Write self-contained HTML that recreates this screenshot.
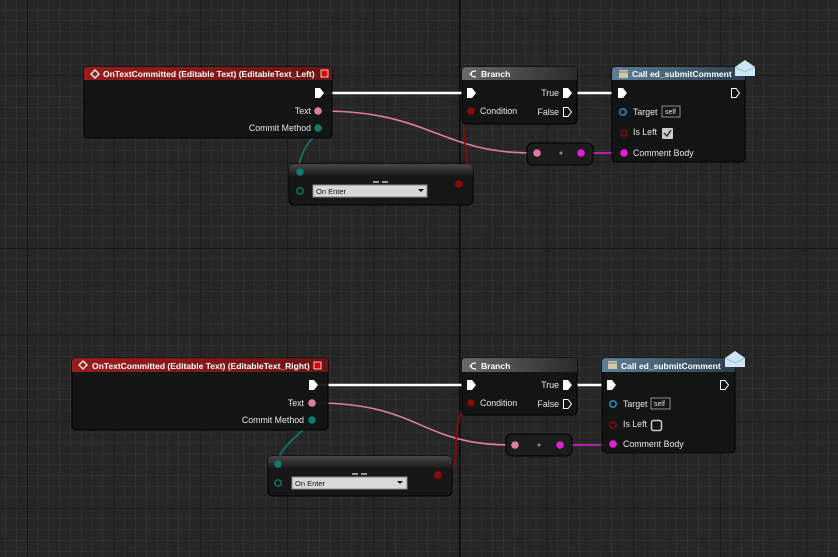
<!DOCTYPE html>
<html><head><meta charset="utf-8"><style>
html,body{margin:0;padding:0;background:#262626;}
svg{display:block}
text{font-family:"Liberation Sans",sans-serif;font-size:8.8px;fill:#e6e6e6;}
.t{font-weight:bold;font-size:8.5px;fill:#fff}
</style></head><body>
<svg width="838" height="557" viewBox="0 0 838 557" xmlns="http://www.w3.org/2000/svg">
<defs>
<pattern id="minor" x="5.3" y="9.7" width="10.825" height="10.825" patternUnits="userSpaceOnUse">
<path d="M0 0H10.825M0 0V10.825" stroke="#383838" stroke-width="1" fill="none"/>
</pattern>
<pattern id="major" x="27" y="-11.8" width="86.6" height="86.6" patternUnits="userSpaceOnUse">
<path d="M0 0.5H86.6M0.5 0V86.6" stroke="#181818" stroke-width="1" fill="none"/>
</pattern>
<linearGradient id="redh" x1="0" y1="0" x2="1" y2="0"><stop offset="0" stop-color="#9a1c1c"/><stop offset="1" stop-color="#6a1414"/></linearGradient>
<linearGradient id="gray" x1="0" y1="0" x2="1" y2="0"><stop offset="0" stop-color="#6a6a6a"/><stop offset="1" stop-color="#2a2a2a"/></linearGradient>
<linearGradient id="blue" x1="0" y1="0" x2="1" y2="0"><stop offset="0" stop-color="#5d7f96"/><stop offset="1" stop-color="#2c3e4c"/></linearGradient>
<linearGradient id="eqh" x1="0" y1="0" x2="0" y2="1"><stop offset="0" stop-color="#555"/><stop offset="1" stop-color="#1a1a1a"/></linearGradient>
</defs>
<rect width="838" height="557" fill="#262626"/>
<rect width="838" height="557" fill="url(#minor)"/>
<rect width="838" height="557" fill="url(#major)"/>
<line x1="459.5" y1="0" x2="459.5" y2="557" stroke="#0c0c0c" stroke-width="1.2"/>

<!-- ===== TOP ===== -->
<g>
<path d="M324 93H466" stroke="#fff" stroke-width="2.5"/>
<path d="M572 93H617" stroke="#fff" stroke-width="2.5"/>
<path d="M322 111C430 111 440 153 532 153" stroke="#e07aa8" stroke-width="1.6" fill="none"/>
<path d="M585 153H620" stroke="#e020d0" stroke-width="1.6"/>
<path d="M322 128C310 140 300 150 298 172" stroke="#0d7a70" stroke-width="1.6" fill="none"/>
<path d="M468 111C462 116 463 130 466 150C468 168 470 182 460 184" stroke="#8a0a0a" stroke-width="1.6" fill="none"/>

<rect x="84" y="67" width="248" height="71" rx="4" fill="#131514" stroke="#000" opacity="0.95"/>
<path d="M88 67H328Q332 67 332 71V80H84V71Q84 67 88 67Z" fill="url(#redh)"/>
<path d="M95 70L99 74L95 78L91 74Z" fill="none" stroke="#fff" stroke-width="1.3"/>
<text x="103" y="77" class="t">OnTextCommitted (Editable Text) (EditableText_Left)</text>
<rect x="321" y="70" width="7" height="7" fill="#d00" stroke="#fff" stroke-width="0.8"/>
<path d="M315 88H320L324 93L320 98H315Z" fill="#fff"/>
<text x="311" y="114" text-anchor="end">Text</text>
<circle cx="318" cy="111" r="3.8" fill="#e07aa8"/>
<text x="311" y="131" text-anchor="end">Commit Method</text>
<circle cx="318" cy="128" r="3.8" fill="#0d7a70"/>

<rect x="289" y="164" width="184" height="41" rx="5" fill="#171717" stroke="#000"/>
<path d="M294 164H468Q473 164 473 169V176H289V169Q289 164 294 164Z" fill="url(#eqh)" opacity="0.8"/>
<circle cx="300" cy="172" r="3.8" fill="#0d7a70"/>
<circle cx="300" cy="191" r="3.2" fill="none" stroke="#0d7a70" stroke-width="1.4"/>
<rect x="373" y="181" width="6" height="2" fill="#999"/><rect x="382" y="181" width="6" height="2" fill="#999"/>
<rect x="313" y="185" width="114" height="12" fill="#d8d8d8" stroke="#888"/>
<text x="316" y="194" style="fill:#111;font-size:7.5px">On Enter</text>
<path d="M418 189H424L421 192Z" fill="#111"/>
<circle cx="459" cy="184" r="3.8" fill="#8a0a0a"/>

<rect x="462" y="67" width="115" height="57" rx="4" fill="#131514" stroke="#000"/>
<path d="M466 67H573Q577 67 577 71V80H462V71Q462 67 466 67Z" fill="url(#gray)"/>
<path d="M476 71Q471 71 471 74Q471 77 476 77" fill="none" stroke="#fff" stroke-width="1.2"/><path d="M469 74H472" stroke="#fff"/>
<text x="481" y="77" class="t">Branch</text>
<path d="M467 88H472L476 93L472 98H467Z" fill="#fff"/>
<text x="559" y="96" text-anchor="end">True</text>
<path d="M563 88H568L572 93L568 98H563Z" fill="#fff"/>
<circle cx="471" cy="111" r="3.8" fill="#8a0a0a"/>
<text x="480" y="114">Condition</text>
<text x="559" y="115" text-anchor="end">False</text>
<path d="M563.5 107.5H568L571.5 112L568 116.5H563.5Z" fill="none" stroke="#fff"/>

<rect x="612" y="67" width="133" height="95" rx="4" fill="#131514" stroke="#000"/>
<path d="M616 67H741Q745 67 745 71V80H612V71Q612 67 616 67Z" fill="url(#blue)"/>
<rect x="619" y="70" width="9" height="8" fill="#cfc8a8"/><line x1="619" y1="72" x2="628" y2="72" stroke="#8a8060"/>
<text x="632" y="77" class="t">Call ed_submitComment</text>
<path d="M735 67L745 60L755 67V76H735Z" fill="#cfe6f4"/><path d="M735 67L745 72L755 67" fill="none" stroke="#8fb4cc" stroke-width="0.8"/>
<path d="M618 88H623L627 93L623 98H618Z" fill="#fff"/>
<path d="M731.5 88.5H736L739.5 93L736 97.5H731.5Z" fill="none" stroke="#fff"/>
<circle cx="623" cy="112" r="3.2" fill="none" stroke="#1e9ad6" stroke-width="1.4"/>
<text x="633" y="115">Target</text>
<rect x="662" y="106" width="18" height="11" fill="none" stroke="#aaa" stroke-width="0.8"/>
<text x="665" y="114" style="font-size:7px">self</text>
<circle cx="624" cy="133" r="3.2" fill="none" stroke="#8a0a0a" stroke-width="1.4"/>
<text x="633" y="135">Is Left</text>
<rect x="662" y="128" width="11" height="11" rx="1" fill="#ccc"/>
<path d="M664 133L667 136L671 130" fill="none" stroke="#333" stroke-width="1.5"/>
<circle cx="624" cy="153" r="3.8" fill="#e020d0"/>
<text x="633" y="156">Comment Body</text>

<rect x="527" y="143" width="66" height="22" rx="6" fill="#1c1c1c" stroke="#000"/>
<circle cx="537" cy="153" r="3.8" fill="#e07aa8"/>
<circle cx="561" cy="153" r="1.5" fill="#888"/>
<circle cx="581" cy="153" r="3.8" fill="#e020d0"/>
</g>

<!-- ===== BOTTOM ===== -->
<g>
<path d="M318 385H466" stroke="#fff" stroke-width="2.5"/>
<path d="M572 385H607" stroke="#fff" stroke-width="2.5"/>
<path d="M316 403C420 403 420 445 511 445" stroke="#e07aa8" stroke-width="1.6" fill="none"/>
<path d="M564 445H610" stroke="#e020d0" stroke-width="1.6"/>
<path d="M316 420C300 432 280 448 276 464" stroke="#0d7a70" stroke-width="1.6" fill="none"/>
<path d="M468 403C458 410 456 430 456 450C456 466 452 475 438 475" stroke="#8a0a0a" stroke-width="1.6" fill="none"/>

<rect x="72" y="358" width="256" height="72" rx="4" fill="#131514" stroke="#000" opacity="0.95"/>
<path d="M76 358H324Q328 358 328 362V372H72V362Q72 358 76 358Z" fill="url(#redh)"/>
<path d="M83 361L87 365L83 369L79 365Z" fill="none" stroke="#fff" stroke-width="1.3"/>
<text x="92" y="369" class="t">OnTextCommitted (Editable Text) (EditableText_Right)</text>
<rect x="314" y="362" width="7" height="7" fill="#d00" stroke="#fff" stroke-width="0.8"/>
<path d="M309 380H314L318 385L314 390H309Z" fill="#fff"/>
<text x="304" y="406" text-anchor="end">Text</text>
<circle cx="312" cy="403" r="3.8" fill="#e07aa8"/>
<text x="304" y="423" text-anchor="end">Commit Method</text>
<circle cx="312" cy="420" r="3.8" fill="#0d7a70"/>

<rect x="268" y="456" width="184" height="40" rx="5" fill="#171717" stroke="#000"/>
<path d="M273 456H447Q452 456 452 461V468H268V461Q268 456 273 456Z" fill="url(#eqh)" opacity="0.8"/>
<circle cx="278" cy="464" r="3.8" fill="#0d7a70"/>
<circle cx="278" cy="483" r="3.2" fill="none" stroke="#0d7a70" stroke-width="1.4"/>
<rect x="352" y="473" width="6" height="2" fill="#999"/><rect x="361" y="473" width="6" height="2" fill="#999"/>
<rect x="292" y="477" width="115" height="12" fill="#d8d8d8" stroke="#888"/>
<text x="295" y="486" style="fill:#111;font-size:7.5px">On Enter</text>
<path d="M397 481H403L400 484Z" fill="#111"/>
<circle cx="438" cy="475" r="3.8" fill="#8a0a0a"/>

<rect x="462" y="358" width="115" height="57" rx="4" fill="#131514" stroke="#000"/>
<path d="M466 358H573Q577 358 577 362V372H462V362Q462 358 466 358Z" fill="url(#gray)"/>
<path d="M476 363Q471 363 471 366Q471 369 476 369" fill="none" stroke="#fff" stroke-width="1.2"/><path d="M469 366H472" stroke="#fff"/>
<text x="481" y="369" class="t">Branch</text>
<path d="M467 380H472L476 385L472 390H467Z" fill="#fff"/>
<text x="559" y="388" text-anchor="end">True</text>
<path d="M563 380H568L572 385L568 390H563Z" fill="#fff"/>
<circle cx="471" cy="403" r="3.8" fill="#8a0a0a"/>
<text x="480" y="406">Condition</text>
<text x="559" y="407" text-anchor="end">False</text>
<path d="M563.5 399.5H568L571.5 404L568 408.5H563.5Z" fill="none" stroke="#fff"/>

<rect x="602" y="358" width="133" height="95" rx="4" fill="#131514" stroke="#000"/>
<path d="M606 358H731Q735 358 735 362V372H602V362Q602 358 606 358Z" fill="url(#blue)"/>
<rect x="608" y="361" width="9" height="8" fill="#cfc8a8"/><line x1="608" y1="363" x2="617" y2="363" stroke="#8a8060"/>
<text x="621" y="369" class="t">Call ed_submitComment</text>
<path d="M725 358L735 351L745 358V367H725Z" fill="#cfe6f4"/><path d="M725 358L735 363L745 358" fill="none" stroke="#8fb4cc" stroke-width="0.8"/>
<path d="M607 380H612L616 385L612 390H607Z" fill="#fff"/>
<path d="M720.5 380.5H725L728.5 385L725 389.5H720.5Z" fill="none" stroke="#fff"/>
<circle cx="613" cy="404" r="3.2" fill="none" stroke="#1e9ad6" stroke-width="1.4"/>
<text x="623" y="407">Target</text>
<rect x="651" y="398" width="19" height="11" fill="none" stroke="#aaa" stroke-width="0.8"/>
<text x="654" y="406" style="font-size:7px">self</text>
<circle cx="613" cy="425" r="3.2" fill="none" stroke="#8a0a0a" stroke-width="1.4"/>
<text x="623" y="427">Is Left</text>
<rect x="651.5" y="420.5" width="10" height="10" rx="2" fill="none" stroke="#ccc" stroke-width="1.5"/>
<circle cx="613" cy="444" r="3.8" fill="#e020d0"/>
<text x="623" y="447">Comment Body</text>

<rect x="506" y="434" width="66" height="22" rx="6" fill="#1c1c1c" stroke="#000"/>
<circle cx="515" cy="445" r="3.8" fill="#e07aa8"/>
<circle cx="539" cy="445" r="1.5" fill="#888"/>
<circle cx="560" cy="445" r="3.8" fill="#e020d0"/>
</g>
</svg>
</body></html>
